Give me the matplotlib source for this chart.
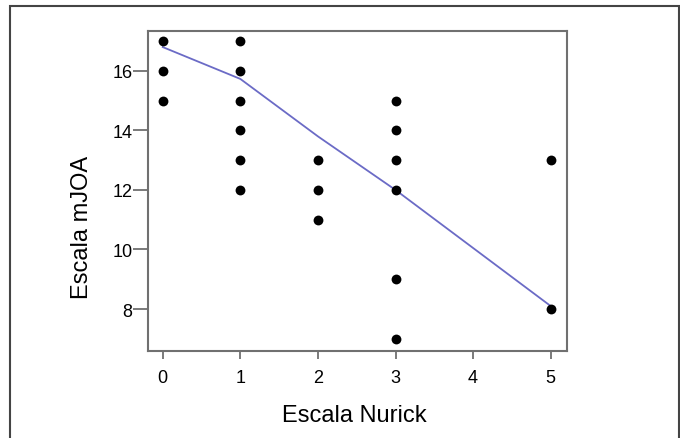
import matplotlib
matplotlib.use('Agg')
import matplotlib.pyplot as plt
from matplotlib.patches import Rectangle

plt.rcParams['font.family'] = ['Liberation Sans', 'DejaVu Sans']

# scatter data (Nurick scale vs mJOA)
nurick = [0, 0, 0, 1, 1, 1, 1, 1, 1, 2, 2, 2, 3, 3, 3, 3, 3, 3, 5, 5]
mjoa = [15, 16, 17, 12, 13, 14, 15, 16, 17, 11, 12, 13, 7, 9, 12, 13, 14, 15, 8, 13]

# smoothed fit line
fit_x = [0, 1, 2, 3, 5]
fit_y = [16.8, 15.73, 13.8, 12.0, 8.1]

x_ticks = [0, 1, 2, 3, 4, 5]
y_ticks = [8, 10, 12, 14, 16]

W, H = 680, 439
fig = plt.figure(figsize=(6.8, 4.39), dpi=100)
ax = fig.add_axes([148 / W, 1 - 352 / H, (567 - 148) / W, (352 - 32) / H])

ax.plot(fit_x, fit_y, color='#6b6bc6', lw=1.3, zorder=2)
ax.scatter(nurick, mjoa, s=50, color='black', zorder=3, linewidths=0)

ax.set_xlim(-0.19, 5.21)
ax.set_ylim(6.59, 17.34)
ax.set_xticks(x_ticks)
ax.set_yticks(y_ticks)

for sp in ax.spines.values():
    sp.set_color('#707070')
    sp.set_linewidth(1.5)

ax.tick_params(axis='y', length=11, width=1.3, color='#707070', pad=0, labelsize=13)
ax.tick_params(axis='x', length=6, width=1.3, color='#707070', pad=7, labelsize=13)

# axis titles placed as in the reference
fig.text(354.5 / W, 1 - 416 / H, 'Escala Nurick', fontsize=17, ha='center', va='center')
fig.text(82 / W, 1 - 227 / H, 'Escala mJOA', fontsize=17, ha='center', va='center', rotation=90)

# outer frame
fig.patches.append(Rectangle((10 / W, -0.1), (679 - 10) / W, 1 - 7 / H + 0.1,
                             transform=fig.transFigure, fill=False,
                             edgecolor='#444444', lw=1.5))

fig.savefig('out.png', dpi=100)
